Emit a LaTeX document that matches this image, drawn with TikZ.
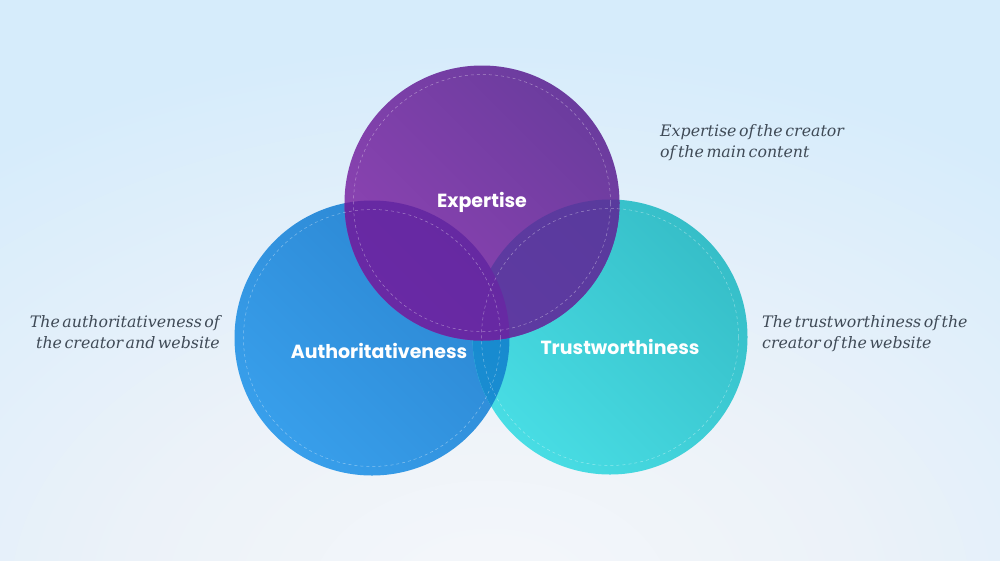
\documentclass[tikz,border=0pt]{standalone}
\usepackage{fontspec}
\setsansfont{Poppins}
\newfontfamily\notefont{DejaVu Serif}
\usetikzlibrary{positioning}
\definecolor{bgblue}{HTML}{D6ECFB}
\definecolor{bgmid}{HTML}{ECF2F9}
\definecolor{bglight}{HTML}{F5F7FA}
\definecolor{expdark}{HTML}{6B3C9E}
\definecolor{explight}{HTML}{8E43B3}
\definecolor{authdark}{HTML}{2B85D1}
\definecolor{authlight}{HTML}{389FEB}
\definecolor{trustdark}{HTML}{36BEC8}
\definecolor{trustlight}{HTML}{48DDE4}
\definecolor{eaover}{HTML}{6E2AA8}
\definecolor{eaoverdk}{HTML}{6629A2}
\definecolor{etover}{HTML}{603AA3}
\definecolor{etoverdk}{HTML}{583A9C}
\definecolor{atover}{HTML}{1A8DD2}
\definecolor{atoverdk}{HTML}{0E80C3}
\definecolor{notegray}{HTML}{3F4A56}
\newcommand\notetight{\spaceskip=0.16em\relax}
\pgfdeclareradialshading{bgglow}{\pgfpoint{0bp}{0bp}}{%
  color(0bp)=(bglight); color(6bp)=(bgmid); color(14bp)=(bgblue); color(50bp)=(bgblue)}

\begin{document}
\begin{tikzpicture}[
    x=1pt, y=-1pt,
    ring/.style  = {circle, minimum size=275pt, inner sep=0pt},
    inner/.style = {circle, minimum size=257pt, inner sep=0pt, draw=white,
                    draw opacity=0.4, dashed, line width=0.5pt},
    tag/.style   = {font=\sffamily\bfseries\fontsize{19}{22}\selectfont,
                    text=white, anchor=base, inner sep=0pt},
    note/.style  = {font=\notefont\itshape\fontsize{15.8}{21.5}\selectfont,
                    text=notegray, inner sep=0pt, execute at begin node=\notetight}
  ]
  \useasboundingbox (0,0) rectangle (1000,560);

  % ── Background ──────────────────────────────────────────────────────────
  \fill[bgblue] (0,0) rectangle (1000,560);
  \begin{scope}
    \clip (0,0) rectangle (1000,560);
    \shade[shading=bgglow] (490,600) ellipse[x radius=1500, y radius=1000];
  \end{scope}

  % ── Circles ─────────────────────────────────────────────────────────────
  \node[ring, shade, bottom color=authlight, top color=authdark, shading angle=-45] (auth) at (372,338) {};
  \node[ring, shade, bottom color=trustlight, top color=trustdark, shading angle=-45] (trust) at (610,337) {};

  % blue / teal overlap
  \begin{scope}
    \clip (auth.center) circle[radius=137.5pt];
    \shade[bottom color=atover, top color=atoverdk, shading angle=-45] (trust.center) circle[radius=137.5pt];
  \end{scope}

  \node[ring, shade, bottom color=explight, top color=expdark, shading angle=-45] (exp) at (482,203) {};

  % purple / teal and purple / blue overlaps
  \begin{scope}
    \clip (exp.center) circle[radius=137.5pt];
    \shade[bottom color=etover, top color=etoverdk, shading angle=-45] (trust.center) circle[radius=137.5pt];
    \shade[bottom color=eaover, top color=eaoverdk, shading angle=-45] (auth.center) circle[radius=137.5pt];
  \end{scope}

  \node[inner] (authin)  at (auth.center)  {};
  \node[inner] (trustin) at (trust.center) {};
  \node[inner] (expin)   at (exp.center)   {};

  % ── Labels ──────────────────────────────────────────────────────────────
  \node[tag] (explbl)   at (482,207) {Expertise};
  \node[tag] (authlbl)  at (379,358) {Authoritativeness};
  \node[tag] (trustlbl) at (620,354) {Trustworthiness};

  % ── Notes ───────────────────────────────────────────────────────────────
  \node[note, align=left, anchor=north west] (expnote) at (660,124)
    {Expertise of the creator\\of the main content};
  \node[note, align=right, anchor=north east] (authnote) at (220,315)
    {The authoritativeness of\\the creator and website};
  \node[note, align=left, anchor=north west] (trustnote) at (762,315)
    {The trustworthiness of the\\creator of the website};
\end{tikzpicture}
\end{document}
